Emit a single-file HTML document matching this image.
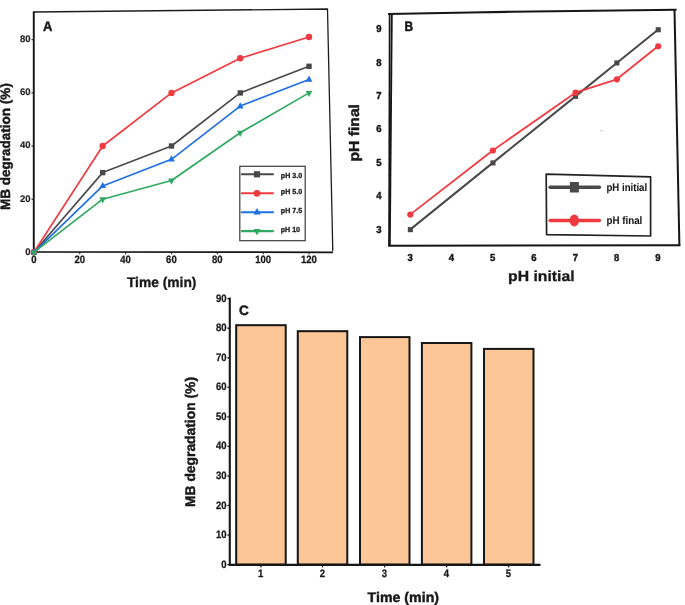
<!DOCTYPE html>
<html lang="en"><head><meta charset="utf-8"><title>MB degradation figure</title>
<style>
html,body{margin:0;padding:0;background:#fff;}
body{width:685px;height:605px;overflow:hidden;}
svg{display:block;font-family:"Liberation Sans",sans-serif;font-weight:bold;text-rendering:geometricPrecision;}
text{fill:#1a1a1a;stroke:#1a1a1a;stroke-width:0.45px;stroke-linejoin:round;}
.t{text-anchor:middle;}
.e{text-anchor:end;}
</style></head><body>
<svg width="685" height="605" viewBox="0 0 685 605">
<defs><filter id="soft" x="-5%" y="-5%" width="110%" height="110%"><feGaussianBlur stdDeviation="0.35"/></filter></defs>
<rect width="685" height="605" fill="#fff"/>
<g filter="url(#soft)">
<g id="chartA">
<path d="M33.7 252.5 L33.7 12 L327.5 9 L332.8 251.2" fill="none" stroke="#1e1e1e" stroke-width="1.3" stroke-linejoin="round"/>
<path d="M33.7 11.5 L33.7 252 L333 252.3" fill="none" stroke="#151515" stroke-width="1.75"/>
<line x1="31.5" x2="33.7" y1="252.3" y2="252.3" stroke="#151515" stroke-width="1"/>
<text class="e" x="30.6" y="254.7" font-size="9.6" textLength="5.3" lengthAdjust="spacingAndGlyphs" style="fill:#262626;stroke:#262626;stroke-width:0.2px">0</text>
<line x1="31.5" x2="33.7" y1="199.2" y2="199.2" stroke="#151515" stroke-width="1"/>
<text class="e" x="30.6" y="201.6" font-size="9.6" textLength="10.6" lengthAdjust="spacingAndGlyphs" style="fill:#262626;stroke:#262626;stroke-width:0.2px">20</text>
<line x1="31.5" x2="33.7" y1="146.0" y2="146.0" stroke="#151515" stroke-width="1"/>
<text class="e" x="30.6" y="148.4" font-size="9.6" textLength="10.6" lengthAdjust="spacingAndGlyphs" style="fill:#262626;stroke:#262626;stroke-width:0.2px">40</text>
<line x1="31.5" x2="33.7" y1="92.9" y2="92.9" stroke="#151515" stroke-width="1"/>
<text class="e" x="30.6" y="95.3" font-size="9.6" textLength="10.6" lengthAdjust="spacingAndGlyphs" style="fill:#262626;stroke:#262626;stroke-width:0.2px">60</text>
<line x1="31.5" x2="33.7" y1="39.7" y2="39.7" stroke="#151515" stroke-width="1"/>
<text class="e" x="30.6" y="42.1" font-size="9.6" textLength="10.6" lengthAdjust="spacingAndGlyphs" style="fill:#262626;stroke:#262626;stroke-width:0.2px">80</text>
<line x1="33.9" x2="33.9" y1="252" y2="254.3" stroke="#151515" stroke-width="1"/>
<text class="t" x="33.8" y="263.3" font-size="10.7" textLength="5.3" lengthAdjust="spacingAndGlyphs" style="stroke-width:0.3px">0</text>
<line x1="79.8" x2="79.8" y1="252" y2="254.3" stroke="#151515" stroke-width="1"/>
<text class="t" x="79.7" y="263.3" font-size="10.7" textLength="10.6" lengthAdjust="spacingAndGlyphs" style="stroke-width:0.3px">20</text>
<line x1="125.6" x2="125.6" y1="252" y2="254.3" stroke="#151515" stroke-width="1"/>
<text class="t" x="125.5" y="263.3" font-size="10.7" textLength="10.6" lengthAdjust="spacingAndGlyphs" style="stroke-width:0.3px">40</text>
<line x1="171.5" x2="171.5" y1="252" y2="254.3" stroke="#151515" stroke-width="1"/>
<text class="t" x="171.4" y="263.3" font-size="10.7" textLength="10.6" lengthAdjust="spacingAndGlyphs" style="stroke-width:0.3px">60</text>
<line x1="217.3" x2="217.3" y1="252" y2="254.3" stroke="#151515" stroke-width="1"/>
<text class="t" x="217.2" y="263.3" font-size="10.7" textLength="10.6" lengthAdjust="spacingAndGlyphs" style="stroke-width:0.3px">80</text>
<line x1="263.2" x2="263.2" y1="252" y2="254.3" stroke="#151515" stroke-width="1"/>
<text class="t" x="263.1" y="263.3" font-size="10.7" textLength="15.9" lengthAdjust="spacingAndGlyphs" style="stroke-width:0.3px">100</text>
<line x1="309.0" x2="309.0" y1="252" y2="254.3" stroke="#151515" stroke-width="1"/>
<text class="t" x="308.9" y="263.3" font-size="10.7" textLength="15.9" lengthAdjust="spacingAndGlyphs" style="stroke-width:0.3px">120</text>
<polyline points="33.9,252.3 102.7,172.6 171.5,146.0 240.2,92.9 309.0,66.3" fill="none" stroke="#4a4a4a" stroke-width="1.65" stroke-linejoin="round"/>
<rect x="31.2" y="249.6" width="5.4" height="5.4" fill="#4a4a4a"/>
<rect x="100.0" y="169.9" width="5.4" height="5.4" fill="#4a4a4a"/>
<rect x="168.8" y="143.3" width="5.4" height="5.4" fill="#4a4a4a"/>
<rect x="237.6" y="90.2" width="5.4" height="5.4" fill="#4a4a4a"/>
<rect x="306.3" y="63.6" width="5.4" height="5.4" fill="#4a4a4a"/>
<polyline points="33.9,252.3 102.7,146.0 171.5,92.9 240.2,58.3 309.0,37.0" fill="none" stroke="#ef3a40" stroke-width="1.65" stroke-linejoin="round"/>
<circle cx="33.9" cy="252.3" r="3.2" fill="#ef3a40"/>
<circle cx="102.7" cy="146.0" r="3.2" fill="#ef3a40"/>
<circle cx="171.5" cy="92.9" r="3.2" fill="#ef3a40"/>
<circle cx="240.2" cy="58.3" r="3.2" fill="#ef3a40"/>
<circle cx="309.0" cy="37.0" r="3.2" fill="#ef3a40"/>
<polyline points="33.9,252.3 102.7,185.9 171.5,159.3 240.2,106.1 309.0,79.6" fill="none" stroke="#1f6fe0" stroke-width="1.65" stroke-linejoin="round"/>
<path d="M33.9 248.3 L37.3 254.5 L30.5 254.5 Z" fill="#1f6fe0"/>
<path d="M102.7 181.9 L106.1 188.1 L99.3 188.1 Z" fill="#1f6fe0"/>
<path d="M171.5 155.3 L174.9 161.5 L168.0 161.5 Z" fill="#1f6fe0"/>
<path d="M240.2 102.2 L243.6 108.4 L236.8 108.4 Z" fill="#1f6fe0"/>
<path d="M309.0 75.6 L312.4 81.8 L305.6 81.8 Z" fill="#1f6fe0"/>
<polyline points="33.9,252.3 102.7,199.2 171.5,180.5 240.2,132.7 309.0,92.9" fill="none" stroke="#2fa95f" stroke-width="1.65" stroke-linejoin="round"/>
<path d="M33.9 256.6 L37.2 250.4 L30.6 250.4 Z" fill="#2fa95f"/>
<path d="M102.7 203.4 L106.0 197.2 L99.4 197.2 Z" fill="#2fa95f"/>
<path d="M171.5 184.8 L174.8 178.6 L168.1 178.6 Z" fill="#2fa95f"/>
<path d="M240.2 137.0 L243.5 130.8 L236.9 130.8 Z" fill="#2fa95f"/>
<path d="M309.0 97.1 L312.3 90.9 L305.7 90.9 Z" fill="#2fa95f"/>
<rect x="239.8" y="166.3" width="65.4" height="74.4" fill="#fff" stroke="#3a3a3a" stroke-width="1.2"/>
<line x1="241.8" x2="273" y1="174.3" y2="174.3" stroke="#4a4a4a" stroke-width="2.1" stroke-linecap="round"/>
<rect x="253.9" y="171.2" width="6.2" height="6.2" fill="#4a4a4a"/>
<text x="280.8" y="177.8" font-size="7.3" textLength="21.3" lengthAdjust="spacingAndGlyphs" style="fill:#1c1c1c;stroke:#1c1c1c;stroke-width:0.3px">pH 3.0</text>
<line x1="241.8" x2="273" y1="193.3" y2="193.3" stroke="#ef3a40" stroke-width="2.1" stroke-linecap="round"/>
<circle cx="257.0" cy="193.3" r="3.4" fill="#ef3a40"/>
<text x="280.8" y="194.1" font-size="7.3" textLength="21.3" lengthAdjust="spacingAndGlyphs" style="fill:#1c1c1c;stroke:#1c1c1c;stroke-width:0.3px">pH 5.0</text>
<line x1="241.8" x2="273" y1="212.2" y2="212.2" stroke="#1f6fe0" stroke-width="2.1" stroke-linecap="round"/>
<path d="M257.0 208.1 L260.6 214.6 L253.4 214.6 Z" fill="#1f6fe0"/>
<text x="280.8" y="212.8" font-size="7.3" textLength="21.3" lengthAdjust="spacingAndGlyphs" style="fill:#1c1c1c;stroke:#1c1c1c;stroke-width:0.3px">pH 7.5</text>
<line x1="241.8" x2="273" y1="231.1" y2="231.1" stroke="#2fa95f" stroke-width="2.1" stroke-linecap="round"/>
<path d="M257.0 235.6 L260.5 229.1 L253.5 229.1 Z" fill="#2fa95f"/>
<text x="280.8" y="231.8" font-size="7.3" textLength="19.2" lengthAdjust="spacingAndGlyphs" style="fill:#1c1c1c;stroke:#1c1c1c;stroke-width:0.3px">pH 10</text>
<text x="43" y="31.2" font-size="14" textLength="9.4" lengthAdjust="spacingAndGlyphs">A</text>
<text class="t" transform="translate(10.4,146.6) rotate(-90)" font-size="13.5" textLength="127" lengthAdjust="spacingAndGlyphs">MB degradation (%)</text>
<text class="t" x="161.7" y="287" font-size="14" textLength="69.5" lengthAdjust="spacingAndGlyphs" style="stroke-width:0.35px">Time (min)</text>
</g>
<g id="chartB">
<path d="M388 14 L470 12.5 L512 11.8 L676.6 9.7" fill="none" stroke="#151515" stroke-width="2.1"/>
<path d="M674.5 9.6 L679.4 245.3" fill="none" stroke="#151515" stroke-width="2"/>
<path d="M389.6 13.8 L389 245.7" fill="none" stroke="#151515" stroke-width="1.6"/>
<path d="M391.8 13.6 L389.8 245.7" fill="none" stroke="#151515" stroke-width="1.9"/>
<path d="M388.1 245.7 L680.4 245.3" fill="none" stroke="#151515" stroke-width="2.1"/>
<text class="t" x="378.8" y="232.5" font-size="10.1" textLength="5.3" lengthAdjust="spacingAndGlyphs" style="stroke-width:0.45px">3</text>
<text class="t" x="410.1" y="261.4" font-size="10.1" textLength="5.3" lengthAdjust="spacingAndGlyphs" style="stroke-width:0.45px">3</text>
<text class="t" x="378.8" y="199.1" font-size="10.1" textLength="5.3" lengthAdjust="spacingAndGlyphs" style="stroke-width:0.45px">4</text>
<text class="t" x="451.4" y="261.4" font-size="10.1" textLength="5.3" lengthAdjust="spacingAndGlyphs" style="stroke-width:0.45px">4</text>
<text class="t" x="378.8" y="165.7" font-size="10.1" textLength="5.3" lengthAdjust="spacingAndGlyphs" style="stroke-width:0.45px">5</text>
<text class="t" x="492.7" y="261.4" font-size="10.1" textLength="5.3" lengthAdjust="spacingAndGlyphs" style="stroke-width:0.45px">5</text>
<text class="t" x="378.8" y="132.3" font-size="10.1" textLength="5.3" lengthAdjust="spacingAndGlyphs" style="stroke-width:0.45px">6</text>
<text class="t" x="534.0" y="261.4" font-size="10.1" textLength="5.3" lengthAdjust="spacingAndGlyphs" style="stroke-width:0.45px">6</text>
<text class="t" x="378.8" y="98.9" font-size="10.1" textLength="5.3" lengthAdjust="spacingAndGlyphs" style="stroke-width:0.45px">7</text>
<text class="t" x="575.4" y="261.4" font-size="10.1" textLength="5.3" lengthAdjust="spacingAndGlyphs" style="stroke-width:0.45px">7</text>
<text class="t" x="378.8" y="65.5" font-size="10.1" textLength="5.3" lengthAdjust="spacingAndGlyphs" style="stroke-width:0.45px">8</text>
<text class="t" x="616.7" y="261.4" font-size="10.1" textLength="5.3" lengthAdjust="spacingAndGlyphs" style="stroke-width:0.45px">8</text>
<text class="t" x="378.8" y="32.1" font-size="10.1" textLength="5.3" lengthAdjust="spacingAndGlyphs" style="stroke-width:0.45px">9</text>
<text class="t" x="658.0" y="261.4" font-size="10.1" textLength="5.3" lengthAdjust="spacingAndGlyphs" style="stroke-width:0.45px">9</text>
<polyline points="410.1,229.6 492.7,162.9 575.4,96.4 616.7,63.0 658.0,29.7" fill="none" stroke="#4a4a4a" stroke-width="2.0" stroke-linejoin="round"/>
<rect x="407.8" y="227.1" width="5.1" height="5.1" fill="#4a4a4a"/>
<rect x="490.4" y="160.4" width="5.1" height="5.1" fill="#4a4a4a"/>
<rect x="573.0" y="93.8" width="5.1" height="5.1" fill="#4a4a4a"/>
<rect x="614.3" y="60.4" width="5.1" height="5.1" fill="#4a4a4a"/>
<rect x="655.7" y="27.2" width="5.1" height="5.1" fill="#4a4a4a"/>
<polyline points="410.1,214.6 492.7,150.5 575.4,92.7 616.7,79.3 658.0,46.3" fill="none" stroke="#ef3a40" stroke-width="1.75" stroke-linejoin="round"/>
<circle cx="410.3" cy="214.6" r="3.1" fill="#ef3a40"/>
<circle cx="492.9" cy="150.5" r="3.1" fill="#ef3a40"/>
<circle cx="575.6" cy="92.7" r="3.1" fill="#ef3a40"/>
<circle cx="616.9" cy="79.3" r="3.1" fill="#ef3a40"/>
<circle cx="658.2" cy="46.3" r="3.1" fill="#ef3a40"/>
<path d="M546.2 174.1 L650.6 176.8 L650.6 236 L546.6 234.6 Z" fill="#fff" stroke="#222" stroke-width="1.7" stroke-linejoin="round"/>
<line x1="550.2" x2="599.3" y1="187.2" y2="187.2" stroke="#4a4a4a" stroke-width="3.6" stroke-linecap="round"/>
<rect x="569.9" y="182" width="9" height="10.5" fill="#4a4a4a"/>
<line x1="550.2" x2="599.3" y1="220.5" y2="220.5" stroke="#ef3a40" stroke-width="3.6" stroke-linecap="round"/>
<ellipse cx="574.3" cy="220.5" rx="4.7" ry="6" fill="#ef3a40"/>
<text x="606.5" y="191.3" font-size="10.8" textLength="40.6" lengthAdjust="spacingAndGlyphs" style="stroke-width:0.1px">pH initial</text>
<text x="606.5" y="223.8" font-size="10.8" textLength="35.8" lengthAdjust="spacingAndGlyphs" style="stroke-width:0.1px">pH final</text>
<rect x="600.2" y="130.3" width="3.2" height="0.9" fill="#c4c4c4"/>
<text x="404.6" y="31.1" font-size="13.8" textLength="8.6" lengthAdjust="spacingAndGlyphs" style="stroke-width:0.6px">B</text>
<text class="t" transform="translate(358.7,132.8) rotate(-90)" font-size="14.5" textLength="57.5" lengthAdjust="spacingAndGlyphs">pH final</text>
<text class="t" x="541.3" y="280.7" font-size="14.6" textLength="66.5" style="stroke-width:0.3px" lengthAdjust="spacingAndGlyphs">pH initial</text>
</g>
<g id="chartC">
<rect x="236.2" y="325.2" width="49.5" height="239.4" fill="#fcc696" stroke="#151515" stroke-width="2"/>
<rect x="297.8" y="331.2" width="49.5" height="233.4" fill="#fcc696" stroke="#151515" stroke-width="2"/>
<rect x="360.0" y="337.1" width="49.5" height="227.5" fill="#fcc696" stroke="#151515" stroke-width="2"/>
<rect x="421.9" y="343.0" width="49.5" height="221.6" fill="#fcc696" stroke="#151515" stroke-width="2"/>
<rect x="484.0" y="348.9" width="49.5" height="215.7" fill="#fcc696" stroke="#151515" stroke-width="2"/>
<path d="M229.8 297.4 L229.8 564.9 L540.5 564.9" fill="none" stroke="#151515" stroke-width="2.1"/>
<line x1="227.4" x2="229.8" y1="564.6" y2="564.6" stroke="#151515" stroke-width="1.3"/>
<text class="e" x="226.5" y="567.6" font-size="10.8" textLength="5.3" lengthAdjust="spacingAndGlyphs" style="stroke-width:0.3px">0</text>
<line x1="227.4" x2="229.8" y1="535.1" y2="535.1" stroke="#151515" stroke-width="1.3"/>
<text class="e" x="226.5" y="538.1" font-size="10.8" textLength="10.6" lengthAdjust="spacingAndGlyphs" style="stroke-width:0.3px">10</text>
<line x1="227.4" x2="229.8" y1="505.5" y2="505.5" stroke="#151515" stroke-width="1.3"/>
<text class="e" x="226.5" y="508.5" font-size="10.8" textLength="10.6" lengthAdjust="spacingAndGlyphs" style="stroke-width:0.3px">20</text>
<line x1="227.4" x2="229.8" y1="476.0" y2="476.0" stroke="#151515" stroke-width="1.3"/>
<text class="e" x="226.5" y="479.0" font-size="10.8" textLength="10.6" lengthAdjust="spacingAndGlyphs" style="stroke-width:0.3px">30</text>
<line x1="227.4" x2="229.8" y1="446.4" y2="446.4" stroke="#151515" stroke-width="1.3"/>
<text class="e" x="226.5" y="449.4" font-size="10.8" textLength="10.6" lengthAdjust="spacingAndGlyphs" style="stroke-width:0.3px">40</text>
<line x1="227.4" x2="229.8" y1="416.9" y2="416.9" stroke="#151515" stroke-width="1.3"/>
<text class="e" x="226.5" y="419.9" font-size="10.8" textLength="10.6" lengthAdjust="spacingAndGlyphs" style="stroke-width:0.3px">50</text>
<line x1="227.4" x2="229.8" y1="387.3" y2="387.3" stroke="#151515" stroke-width="1.3"/>
<text class="e" x="226.5" y="390.3" font-size="10.8" textLength="10.6" lengthAdjust="spacingAndGlyphs" style="stroke-width:0.3px">60</text>
<line x1="227.4" x2="229.8" y1="357.8" y2="357.8" stroke="#151515" stroke-width="1.3"/>
<text class="e" x="226.5" y="360.8" font-size="10.8" textLength="10.6" lengthAdjust="spacingAndGlyphs" style="stroke-width:0.3px">70</text>
<line x1="227.4" x2="229.8" y1="328.2" y2="328.2" stroke="#151515" stroke-width="1.3"/>
<text class="e" x="226.5" y="331.2" font-size="10.8" textLength="10.6" lengthAdjust="spacingAndGlyphs" style="stroke-width:0.3px">80</text>
<line x1="227.4" x2="229.8" y1="298.7" y2="298.7" stroke="#151515" stroke-width="1.3"/>
<text class="e" x="226.5" y="301.7" font-size="10.8" textLength="10.6" lengthAdjust="spacingAndGlyphs" style="stroke-width:0.3px">90</text>
<line x1="260.9" x2="260.9" y1="564.6" y2="567.4" stroke="#151515" stroke-width="1.2"/>
<text class="t" x="260.7" y="576.8" font-size="10.8" textLength="5.3" lengthAdjust="spacingAndGlyphs" style="stroke-width:0.3px">1</text>
<line x1="322.5" x2="322.5" y1="564.6" y2="567.4" stroke="#151515" stroke-width="1.2"/>
<text class="t" x="322.3" y="576.8" font-size="10.8" textLength="5.3" lengthAdjust="spacingAndGlyphs" style="stroke-width:0.3px">2</text>
<line x1="384.7" x2="384.7" y1="564.6" y2="567.4" stroke="#151515" stroke-width="1.2"/>
<text class="t" x="384.5" y="576.8" font-size="10.8" textLength="5.3" lengthAdjust="spacingAndGlyphs" style="stroke-width:0.3px">3</text>
<line x1="446.6" x2="446.6" y1="564.6" y2="567.4" stroke="#151515" stroke-width="1.2"/>
<text class="t" x="446.4" y="576.8" font-size="10.8" textLength="5.3" lengthAdjust="spacingAndGlyphs" style="stroke-width:0.3px">4</text>
<line x1="508.7" x2="508.7" y1="564.6" y2="567.4" stroke="#151515" stroke-width="1.2"/>
<text class="t" x="508.5" y="576.8" font-size="10.8" textLength="5.3" lengthAdjust="spacingAndGlyphs" style="stroke-width:0.3px">5</text>
<text x="239" y="314.6" font-size="13.6">C</text>
<text class="t" transform="translate(194.6,442) rotate(-90)" font-size="14" textLength="130" lengthAdjust="spacingAndGlyphs">MB degradation (%)</text>
<text class="t" x="403.3" y="601.5" font-size="14" textLength="71.5" lengthAdjust="spacingAndGlyphs">Time (min)</text>
</g>
</g></svg></body></html>
